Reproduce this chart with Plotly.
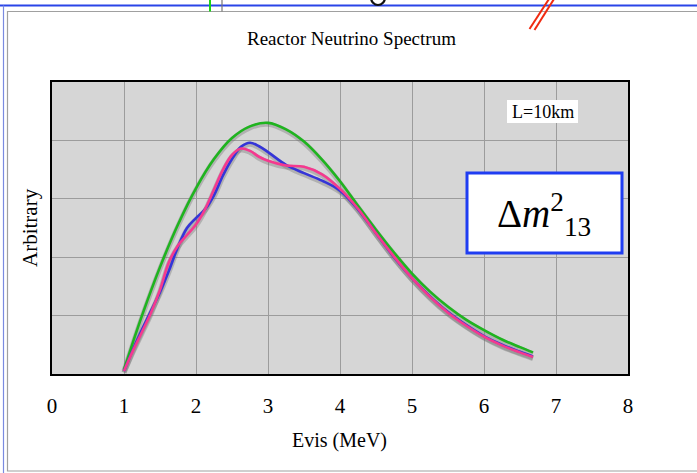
import plotly.graph_objects as go

# ---------------- data ----------------
green_x = [1.0, 1.25, 1.5, 1.75, 2.0, 2.25, 2.5, 2.75, 3.0, 3.25, 3.5, 3.75, 4.0,
           4.25, 4.5, 4.75, 5.0, 5.25, 5.5, 5.75, 6.0, 6.25, 6.5, 6.68]
green_y = [0.08, 1.0, 1.83, 2.56, 3.18, 3.68, 4.04, 4.24, 4.30, 4.19, 3.98, 3.67, 3.30,
           2.88, 2.47, 2.08, 1.72, 1.41, 1.15, 0.93, 0.75, 0.59, 0.46, 0.37]

blue_x = [1.0, 1.125, 1.25, 1.375, 1.5, 1.625, 1.75, 1.875, 2.0, 2.125, 2.25, 2.375,
          2.5, 2.625, 2.75, 2.875, 3.0, 3.25, 3.5, 3.75, 4.0, 4.25, 4.5, 4.75, 5.0,
          5.25, 5.5, 5.75, 6.0, 6.25, 6.5, 6.68]
blue_y = [0.05, 0.42, 0.76, 1.08, 1.40, 1.77, 2.18, 2.50, 2.67, 2.82, 3.06, 3.40,
          3.68, 3.89, 3.96, 3.90, 3.80, 3.58, 3.44, 3.31, 3.14, 2.82, 2.41, 2.00, 1.64,
          1.33, 1.06, 0.84, 0.65, 0.50, 0.38, 0.30]

pink_x = [1.0, 1.125, 1.25, 1.375, 1.5, 1.625, 1.75, 1.875, 2.0, 2.125, 2.25, 2.375,
          2.5, 2.625, 2.75, 2.875, 3.0, 3.25, 3.5, 3.75, 4.0, 4.25, 4.5, 4.75, 5.0,
          5.25, 5.5, 5.75, 6.0, 6.25, 6.5, 6.68]
pink_y = [0.05, 0.40, 0.72, 1.05, 1.44, 1.92, 2.20, 2.38, 2.56, 2.82, 3.16, 3.50,
          3.75, 3.86, 3.82, 3.72, 3.65, 3.57, 3.55, 3.42, 3.17, 2.83, 2.41, 2.01, 1.64,
          1.32, 1.05, 0.83, 0.64, 0.49, 0.37, 0.29]

x_ticks = [0, 1, 2, 3, 4, 5, 6, 7, 8]
title_text = "Reactor Neutrino Spectrum"
x_title = "Evis (MeV)"
y_title = "Arbitrary"
label_L = "L=10km"

SERIF = "Liberation Serif, Times New Roman, serif"

# plot area in pixels
W, H = 697, 473
L, R, T, B = 52, 628, 82, 374


def px(xp):
    return (xp - L) / (R - L)


def py(yp):
    return (B - yp) / (B - T)


fig = go.Figure()
series = [(green_x, green_y, "#1fb41f"),
          (blue_x, blue_y, "#3535d8"),
          (pink_x, pink_y, "#f5398f")]
# soft gray shadow under the curves
for xs, ys, col in series:
    fig.add_trace(go.Scatter(x=xs, y=[v - 0.025 for v in ys], mode="lines",
                             line=dict(color="rgba(110,110,110,0.35)", width=5,
                                       shape="spline", smoothing=1.0),
                             showlegend=False, hoverinfo="skip"))
for xs, ys, col in series:
    fig.add_trace(go.Scatter(x=xs, y=ys, mode="lines",
                             line=dict(color=col, width=2.6, shape="spline", smoothing=1.0),
                             showlegend=False, hoverinfo="skip"))

shapes = []
# L=10km white box
shapes.append(dict(type="rect", xref="paper", yref="paper",
                   x0=px(507), x1=px(578), y0=py(123), y1=py(100),
                   fillcolor="white", line=dict(width=0), layer="above"))
# Delta m box
shapes.append(dict(type="rect", xref="paper", yref="paper",
                   x0=px(467), x1=px(622), y0=py(253), y1=py(173),
                   fillcolor="white", line=dict(color="#1f3df2", width=3), layer="above"))
# slide decorations
shapes.append(dict(type="rect", xref="paper", yref="paper",
                   x0=px(7.5), x1=px(710), y0=py(471), y1=py(11.5),
                   line=dict(color="#a0a0a0", width=1.2), layer="below"))
shapes.append(dict(type="line", xref="paper", yref="paper",
                   x0=px(-5), x1=px(710), y0=py(5.5), y1=py(5.5),
                   line=dict(color="#2a45e8", width=2)))
shapes.append(dict(type="line", xref="paper", yref="paper",
                   x0=px(3.5), x1=px(3.5), y0=py(5.5), y1=py(480),
                   line=dict(color="#7a8ae0", width=1.2)))
shapes.append(dict(type="line", xref="paper", yref="paper",
                   x0=px(210), x1=px(210), y0=py(-2), y1=py(11.5),
                   line=dict(color="#19d219", width=2)))
shapes.append(dict(type="line", xref="paper", yref="paper",
                   x0=px(222), x1=px(222), y0=py(-2), y1=py(11.5),
                   line=dict(color="#777777", width=1.2)))
shapes.append(dict(type="circle", xref="paper", yref="paper",
                   x0=px(371), x1=px(385), y0=py(5), y1=py(-10),
                   line=dict(color="#111111", width=2.2)))
shapes.append(dict(type="line", xref="paper", yref="paper",
                   x0=px(529.5), x1=px(549), y0=py(29), y1=py(-1),
                   line=dict(color="#f02a10", width=2)))
shapes.append(dict(type="line", xref="paper", yref="paper",
                   x0=px(534.5), x1=px(554), y0=py(30), y1=py(-1),
                   line=dict(color="#f02a10", width=2)))

annotations = [
    dict(text=title_text, xref="paper", yref="paper", x=px(351.5), y=py(38),
         showarrow=False, xanchor="center", yanchor="middle",
         font=dict(family=SERIF, size=19, color="black")),
    dict(text=x_title, xref="paper", yref="paper", x=px(339), y=py(440),
         showarrow=False, xanchor="center", yanchor="middle",
         font=dict(family=SERIF, size=20, color="black")),
    dict(text=y_title, xref="paper", yref="paper", x=px(30), y=py(228),
         showarrow=False, xanchor="center", yanchor="middle", textangle=-90,
         font=dict(family=SERIF, size=21, color="black")),
    dict(text=label_L, xref="paper", yref="paper", x=px(542.5), y=py(111.5),
         showarrow=False, xanchor="center", yanchor="middle",
         font=dict(family=SERIF, size=18, color="black")),
    dict(text="Δ<i>m</i><sup>2</sup><sub>13</sub>", xref="paper", yref="paper",
         x=px(544), y=py(214), showarrow=False, xanchor="center", yanchor="middle",
         font=dict(family=SERIF, size=39, color="black")),
]

fig.update_layout(
    width=W, height=H, autosize=False,
    margin=dict(l=L, r=W - R, t=T, b=H - B, pad=0),
    paper_bgcolor="white", plot_bgcolor="#d6d6d6",
    shapes=shapes, annotations=annotations,
    xaxis=dict(range=[0, 8], tickvals=x_ticks, ticktext=[str(v) for v in x_ticks],
               showgrid=True, gridcolor="#9c9c9c", gridwidth=1, zeroline=False,
               showline=True, linecolor="black", linewidth=2, mirror=True,
               ticks="", ticklabelstandoff=12,
               tickfont=dict(family=SERIF, size=21, color="black"), fixedrange=True),
    yaxis=dict(range=[0, 5], dtick=1, showticklabels=False,
               showgrid=True, gridcolor="#9c9c9c", gridwidth=1, zeroline=False,
               showline=True, linecolor="black", linewidth=2, mirror=True,
               ticks="", fixedrange=True),
)

fig.write_html("out.html",
               config={"displayModeBar": False},
               post_script="document.body.style.margin='0';document.body.style.overflow='hidden';")
